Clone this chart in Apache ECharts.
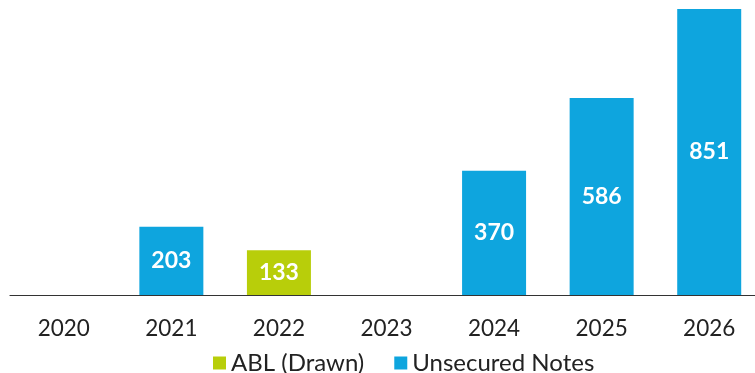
<!DOCTYPE html>
<html><head><meta charset="utf-8">
<script src="https://cdn.jsdelivr.net/npm/echarts@6/dist/echarts.min.js"></script>
<style>html,body{margin:0;padding:0;background:#fff;overflow:hidden;width:755px;height:373px}#c{width:763px;height:373px}</style>
</head><body><div id="c"></div>
<script>
const categories = ['2020','2021','2022','2023','2024','2025','2026'];
const ablDrawn = [null, null, 133, null, null, null, null];
const unsecuredNotes = [null, 203, null, null, 370, 586, 851];
const seriesNames = ['ABL (Drawn)', 'Unsecured Notes'];

const font = 'Lato, "Open Sans", sans-serif';
const chart = echarts.init(document.getElementById('c'));
const lbl = {show: true, position: 'inside', color: '#fff', fontWeight: 'bold', fontSize: 23, fontFamily: font};
chart.setOption({
  animation: false,
  grid: {left: 10, right: 0, top: 0, height: 295},
  legend: {
    top: 346, left: 208, itemWidth: 13, itemHeight: 13, itemGap: 30,
    icon: 'rect',
    textStyle: {fontSize: 24, color: '#222', fontFamily: font},
    data: seriesNames
  },
  xAxis: {
    type: 'category', data: categories,
    axisLine: {lineStyle: {color: '#333', width: 1.2}},
    axisTick: {show: false},
    axisLabel: {fontSize: 22.5, color: '#222', fontFamily: font, margin: 22}
  },
  yAxis: {type: 'value', min: 0, max: 878, show: false, splitLine: {show: false}},
  series: [
    {name: seriesNames[0], type: 'bar', stack: 's', data: ablDrawn, barWidth: 64,
     itemStyle: {color: '#B8CE0A'}, label: lbl},
    {name: seriesNames[1], type: 'bar', stack: 's', data: unsecuredNotes, barWidth: 64,
     itemStyle: {color: '#0EA5DE'}, label: lbl}
  ]
});
</script></body></html>
